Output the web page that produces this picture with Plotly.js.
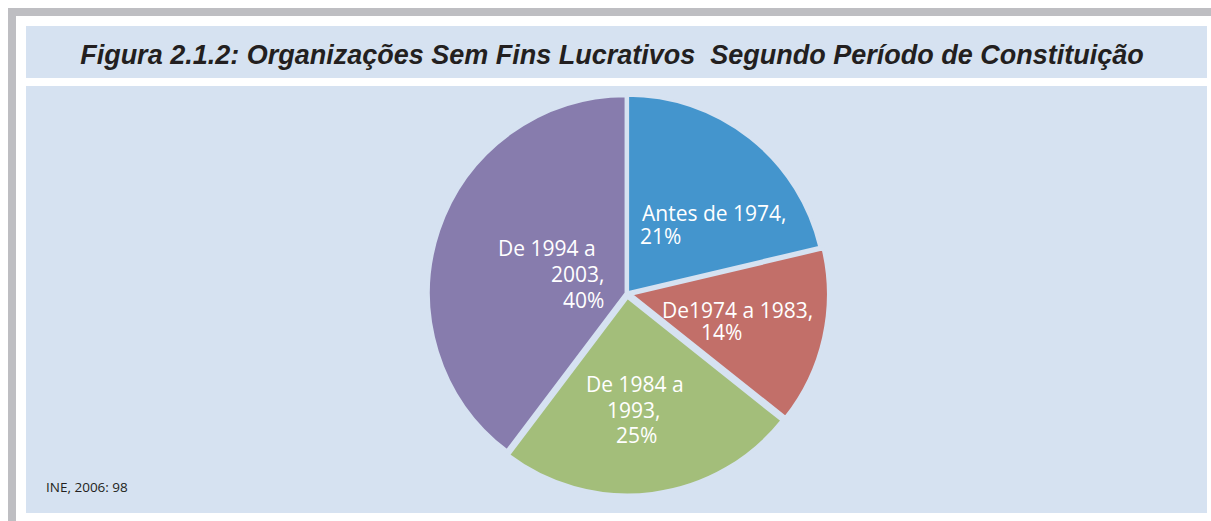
<!DOCTYPE html>
<html>
<head>
<meta charset="utf-8">
<script src="https://cdn.plot.ly/plotly-3.0.1.min.js"></script>
<style>html,body{margin:0;padding:0;background:#fff;}#chart{width:1211px;height:521px;}</style>
</head>
<body>
<div id="chart"></div>
<script>
// ---- data ----
const categories = ['Antes de 1974', 'De1974 a 1983', 'De 1984 a 1993', 'De 1994 a 2003'];
// shares (%); labels show them rounded (21, 14, 25, 40)
const shares = [21.3, 14.4, 24.6, 39.7];
const sliceColors = ['#4495CD', '#C26F69', '#A3BE7A', '#877CAD'];
const slicePull = [0.005, 0.02, 0.02, 0.005];
const wrapLabel = [false, false, true, true];
const titleText = 'Figura 2.1.2: Organizações Sem Fins Lucrativos\u00A0\u00A0Segundo Período de Constituição';
const sourceText = 'INE, 2006: 98';

// ---- layout helpers ----
const W = 1211, H = 521;
const BG = '#D6E2F1';
const px = x => x / W;
const py = y => 1 - y / H;

// label placement (pixels), one entry per slice, one value per line
const labelPlace = [
  {x: [641, 639], y: [212.5, 235.5], anchor: 'left'},
  {x: [737, 721], y: [309.5, 332], anchor: 'center'},
  {x: [635, 634, 636], y: [384, 409.5, 434.5], anchor: 'center'},
  {x: [597, 605, 605], y: [248, 274, 300], anchor: 'right'}
];

function labelLines(i) {
  const lines = [];
  if (wrapLabel[i]) {
    const k = categories[i].lastIndexOf(' a ');
    lines.push(categories[i].slice(0, k + 2));
    lines.push(categories[i].slice(k + 3) + ',');
  } else {
    lines.push(categories[i] + ',');
  }
  lines.push(Math.round(shares[i]) + '%');
  return lines;
}

const annotations = [];
categories.forEach((c, i) => {
  const lines = labelLines(i);
  const p = labelPlace[i];
  lines.forEach((t, j) => {
    annotations.push({
      text: t, showarrow: false, xref: 'paper', yref: 'paper',
      x: px(p.x[j]), y: py(p.y[j]), xanchor: p.anchor, yanchor: 'middle',
      borderpad: 0,
      font: {family: 'Open Sans', size: 21, color: '#FFFFFF'}
    });
  });
});
annotations.push({
  text: sourceText, showarrow: false, xref: 'paper', yref: 'paper',
  x: px(44), y: py(487), xanchor: 'left', yanchor: 'middle',
  font: {family: 'Open Sans', size: 13.5, color: '#231F20'}
});

const rect = (x0, y0, x1, y1, color) => ({
  type: 'rect', xref: 'paper', yref: 'paper', layer: 'below',
  x0: px(x0), x1: px(x1), y0: py(y1), y1: py(y0),
  fillcolor: color, line: {width: 0}
});

const shapes = [
  rect(8, 8, 1211, 16, '#BEBEC2'),
  rect(8, 8, 16, 521, '#BEBEC2'),
  rect(26, 26, 1207, 78, BG),
  rect(26, 86, 1207, 513, BG)
];

const pieCx = 627, pieCy = 293.5, pieHalf = 201.5;

const trace = {
  type: 'pie',
  labels: categories,
  values: shares,
  sort: false,
  direction: 'clockwise',
  rotation: 0,
  pull: slicePull,
  textinfo: 'none',
  hoverinfo: 'label+percent',
  showlegend: false,
  marker: {colors: sliceColors, line: {color: BG, width: 3}},
  domain: {
    x: [px(pieCx - pieHalf), px(pieCx + pieHalf)],
    y: [py(pieCy + pieHalf), py(pieCy - pieHalf)]
  }
};

const layout = {
  width: W, height: H,
  margin: {l: 0, r: 0, t: 0, b: 0},
  paper_bgcolor: '#FFFFFF',
  plot_bgcolor: '#FFFFFF',
  title: {
    text: titleText, xref: 'paper', yref: 'paper',
    x: px(612), xanchor: 'center', y: py(55), yanchor: 'middle',
    font: {family: 'Liberation Sans', size: 27, weight: 'bold', style: 'italic', color: '#231F20'}
  },
  shapes: shapes,
  annotations: annotations,
  showlegend: false
};

Plotly.newPlot('chart', [trace], layout, {displayModeBar: false, staticPlot: true});
</script>
</body>
</html>
